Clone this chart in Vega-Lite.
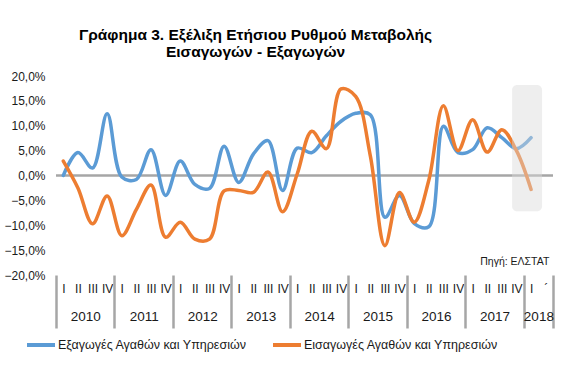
{
  "$schema": "https://vega.github.io/schema/vega-lite/v6.json",
  "autosize": {"type": "none"},
  "width": 497,
  "height": 199,
  "padding": {"left": 56, "top": 76, "right": 22, "bottom": 104},
  "config": {
    "font": "Liberation Sans",
    "view": {"stroke": null},
    "axis": {"labelFont": "Liberation Sans", "labelColor": "#1a1a1a", "grid": false, "domain": false}
  },
  "title": {
    "text": ["Γράφημα 3. Εξέλιξη Ετήσιου  Ρυθμού Μεταβολής", "Εισαγωγών - Εξαγωγών"],
    "font": "Liberation Sans",
    "fontSize": 15.5,
    "fontWeight": "bold",
    "color": "#000000",
    "anchor": "middle",
    "frame": "group",
    "dx": -49,
    "offset": 10,
    "lineHeight": 17
  },
  "datasets": {
    "trade": [
      {"idx": 0, "series": "Εξαγωγές Αγαθών και Υπηρεσιών", "value": 0.0},
      {"idx": 1, "series": "Εξαγωγές Αγαθών και Υπηρεσιών", "value": 4.6},
      {"idx": 2, "series": "Εξαγωγές Αγαθών και Υπηρεσιών", "value": 1.5},
      {"idx": 3, "series": "Εξαγωγές Αγαθών και Υπηρεσιών", "value": 12.4},
      {"idx": 4, "series": "Εξαγωγές Αγαθών και Υπηρεσιών", "value": -0.3},
      {"idx": 5, "series": "Εξαγωγές Αγαθών και Υπηρεσιών", "value": -0.8},
      {"idx": 6, "series": "Εξαγωγές Αγαθών και Υπηρεσιών", "value": 5.2},
      {"idx": 7, "series": "Εξαγωγές Αγαθών και Υπηρεσιών", "value": -4.0},
      {"idx": 8, "series": "Εξαγωγές Αγαθών και Υπηρεσιών", "value": 2.9},
      {"idx": 9, "series": "Εξαγωγές Αγαθών και Υπηρεσιών", "value": -1.8},
      {"idx": 10, "series": "Εξαγωγές Αγαθών και Υπηρεσιών", "value": -2.6},
      {"idx": 11, "series": "Εξαγωγές Αγαθών και Υπηρεσιών", "value": 5.9},
      {"idx": 12, "series": "Εξαγωγές Αγαθών και Υπηρεσιών", "value": -1.4},
      {"idx": 13, "series": "Εξαγωγές Αγαθών και Υπηρεσιών", "value": 4.3},
      {"idx": 14, "series": "Εξαγωγές Αγαθών και Υπηρεσιών", "value": 7.0},
      {"idx": 15, "series": "Εξαγωγές Αγαθών και Υπηρεσιών", "value": -3.0},
      {"idx": 16, "series": "Εξαγωγές Αγαθών και Υπηρεσιών", "value": 5.5},
      {"idx": 17, "series": "Εξαγωγές Αγαθών και Υπηρεσιών", "value": 4.6},
      {"idx": 18, "series": "Εξαγωγές Αγαθών και Υπηρεσιών", "value": 8.0},
      {"idx": 19, "series": "Εξαγωγές Αγαθών και Υπηρεσιών", "value": 10.9},
      {"idx": 20, "series": "Εξαγωγές Αγαθών και Υπηρεσιών", "value": 12.5},
      {"idx": 21, "series": "Εξαγωγές Αγαθών και Υπηρεσιών", "value": 12.2},
      {"idx": 22, "series": "Εξαγωγές Αγαθών και Υπηρεσιών", "value": -8.4},
      {"idx": 23, "series": "Εξαγωγές Αγαθών και Υπηρεσιών", "value": -4.0},
      {"idx": 24, "series": "Εξαγωγές Αγαθών και Υπηρεσιών", "value": -9.6},
      {"idx": 25, "series": "Εξαγωγές Αγαθών και Υπηρεσιών", "value": -10.3},
      {"idx": 26, "series": "Εξαγωγές Αγαθών και Υπηρεσιών", "value": 9.9},
      {"idx": 27, "series": "Εξαγωγές Αγαθών και Υπηρεσιών", "value": 4.6},
      {"idx": 28, "series": "Εξαγωγές Αγαθών και Υπηρεσιών", "value": 5.2},
      {"idx": 29, "series": "Εξαγωγές Αγαθών και Υπηρεσιών", "value": 9.6},
      {"idx": 30, "series": "Εξαγωγές Αγαθών και Υπηρεσιών", "value": 7.6},
      {"idx": 31, "series": "Εξαγωγές Αγαθών και Υπηρεσιών", "value": 5.4},
      {"idx": 32, "series": "Εξαγωγές Αγαθών και Υπηρεσιών", "value": 7.6},
      {"idx": 0, "series": "Εισαγωγές Αγαθών και Υπηρεσιών", "value": 2.9},
      {"idx": 1, "series": "Εισαγωγές Αγαθών και Υπηρεσιών", "value": -2.5},
      {"idx": 2, "series": "Εισαγωγές Αγαθών και Υπηρεσιών", "value": -9.7},
      {"idx": 3, "series": "Εισαγωγές Αγαθών και Υπηρεσιών", "value": -4.1},
      {"idx": 4, "series": "Εισαγωγές Αγαθών και Υπηρεσιών", "value": -12.1},
      {"idx": 5, "series": "Εισαγωγές Αγαθών και Υπηρεσιών", "value": -6.8},
      {"idx": 6, "series": "Εισαγωγές Αγαθών και Υπηρεσιών", "value": -1.9},
      {"idx": 7, "series": "Εισαγωγές Αγαθών και Υπηρεσιών", "value": -12.4},
      {"idx": 8, "series": "Εισαγωγές Αγαθών και Υπηρεσιών", "value": -9.4},
      {"idx": 9, "series": "Εισαγωγές Αγαθών και Υπηρεσιών", "value": -12.8},
      {"idx": 10, "series": "Εισαγωγές Αγαθών και Υπηρεσιών", "value": -12.8},
      {"idx": 11, "series": "Εισαγωγές Αγαθών και Υπηρεσιών", "value": -3.1},
      {"idx": 12, "series": "Εισαγωγές Αγαθών και Υπηρεσιών", "value": -3.0},
      {"idx": 13, "series": "Εισαγωγές Αγαθών και Υπηρεσιών", "value": -3.4},
      {"idx": 14, "series": "Εισαγωγές Αγαθών και Υπηρεσιών", "value": 0.7},
      {"idx": 15, "series": "Εισαγωγές Αγαθών και Υπηρεσιών", "value": -7.3},
      {"idx": 16, "series": "Εισαγωγές Αγαθών και Υπηρεσιών", "value": 0.3},
      {"idx": 17, "series": "Εισαγωγές Αγαθών και Υπηρεσιών", "value": 8.9},
      {"idx": 18, "series": "Εισαγωγές Αγαθών και Υπηρεσιών", "value": 5.4},
      {"idx": 19, "series": "Εισαγωγές Αγαθών και Υπηρεσιών", "value": 17.4},
      {"idx": 20, "series": "Εισαγωγές Αγαθών και Υπηρεσιών", "value": 15.9},
      {"idx": 21, "series": "Εισαγωγές Αγαθών και Υπηρεσιών", "value": 4.0},
      {"idx": 22, "series": "Εισαγωγές Αγαθών και Υπηρεσιών", "value": -14.1},
      {"idx": 23, "series": "Εισαγωγές Αγαθών και Υπηρεσιών", "value": -3.4},
      {"idx": 24, "series": "Εισαγωγές Αγαθών και Υπηρεσιών", "value": -9.4},
      {"idx": 25, "series": "Εισαγωγές Αγαθών και Υπηρεσιών", "value": -1.0},
      {"idx": 26, "series": "Εισαγωγές Αγαθών και Υπηρεσιών", "value": 14.0},
      {"idx": 27, "series": "Εισαγωγές Αγαθών και Υπηρεσιών", "value": 5.0},
      {"idx": 28, "series": "Εισαγωγές Αγαθών και Υπηρεσιών", "value": 11.2},
      {"idx": 29, "series": "Εισαγωγές Αγαθών και Υπηρεσιών", "value": 4.7},
      {"idx": 30, "series": "Εισαγωγές Αγαθών και Υπηρεσιών", "value": 9.2},
      {"idx": 31, "series": "Εισαγωγές Αγαθών και Υπηρεσιών", "value": 5.0},
      {"idx": 32, "series": "Εισαγωγές Αγαθών και Υπηρεσιών", "value": -2.8}
    ],
    "highlight": [
      {"start": 30.7, "end": 32.75, "low": -7.2, "high": 18.2}
    ],
    "source": [
      {"label": "Πηγή: ΕΛΣΤΑΤ"}
    ]
  },
  "layer": [
    {
      "mark": {"type": "rule", "color": "#a6a6a6", "strokeWidth": 2.5},
      "encoding": {
        "y": {"datum": 0, "type": "quantitative", "axis": null}
      }
    },
    {
      "data": {"name": "trade"},
      "mark": {"type": "line", "interpolate": "catmull-rom", "strokeWidth": 3.5, "strokeCap": "round", "strokeJoin": "round"},
      "encoding": {
        "x": {
          "field": "idx",
          "type": "quantitative",
          "scale": {"domain": [-0.5, 33.5], "nice": false, "zero": false},
          "axis": {
            "orient": "bottom",
            "title": null,
            "values": [0,1,2,3,4,5,6,7,8,9,10,11,12,13,14,15,16,17,18,19,20,21,22,23,24,25,26,27,28,29,30,31,32,33],
            "labelExpr": "datum.value == 33 ? '´' : (datum.value % 4 == 0 ? 'I' : (datum.value % 4 == 1 ? 'II' : (datum.value % 4 == 2 ? 'III' : 'IV')))",
            "ticks": false,
            "labelPadding": 8,
            "labelFontSize": 12,
            "labelFlush": false,
            "labelOverlap": false,
            "labelBound": false
          }
        },
        "y": {
          "field": "value",
          "type": "quantitative",
          "scale": {"domain": [-20, 20], "nice": false},
          "axis": {
            "orient": "left",
            "title": null,
            "values": [-20, -15, -10, -5, 0, 5, 10, 15, 20],
            "labelExpr": "replace(format(datum.value, '.1f'), '.', ',') + '%'",
            "ticks": false,
            "labelPadding": 11,
            "labelFontSize": 12
          }
        },
        "color": {
          "field": "series",
          "type": "nominal",
          "scale": {
            "domain": ["Εξαγωγές Αγαθών και Υπηρεσιών", "Εισαγωγές Αγαθών και Υπηρεσιών"],
            "range": ["#5B9BD5", "#ED7D31"]
          },
          "legend": {
            "title": null,
            "orient": "none",
            "direction": "horizontal",
            "legendX": -31,
            "legendY": 253,
            "symbolType": "stroke",
            "symbolSize": 784,
            "symbolStrokeWidth": 4,
            "labelFontSize": 12.5,
            "labelColor": "#1a1a1a",
            "labelOffset": 1,
            "labelLimit": 0,
            "columnPadding": 18,
            "padding": 0
          }
        }
      }
    },
    {
      "data": {"name": "highlight"},
      "mark": {"type": "rect", "fill": "#d9d9d9", "opacity": 0.45, "cornerRadius": 5},
      "encoding": {
        "x": {
          "field": "start",
          "type": "quantitative",
          "axis": {
            "orient": "bottom",
            "title": null,
            "values": [-0.5, 3.5, 7.5, 11.5, 15.5, 19.5, 23.5, 27.5, 31.5, 33.5],
            "labels": false,
            "ticks": true,
            "tickSize": 53,
            "tickWidth": 2.5,
            "tickColor": "#a6a6a6"
          }
        },
        "x2": {"field": "end"},
        "y": {"field": "low", "type": "quantitative", "axis": null},
        "y2": {"field": "high"}
      }
    },
    {
      "data": {"name": "source"},
      "mark": {"type": "text", "align": "right", "baseline": "middle", "fontSize": 10.5, "color": "#1a1a1a"},
      "encoding": {
        "text": {"field": "label"},
        "x": {
          "datum": 33.25,
          "type": "quantitative",
          "axis": {
            "orient": "bottom",
            "title": null,
            "values": [1.5, 5.5, 9.5, 13.5, 17.5, 21.5, 25.5, 29.5, 32.5],
            "labelExpr": "toString(2010 + floor(datum.value / 4))",
            "ticks": false,
            "labelPadding": 34,
            "labelFontSize": 13.5,
            "labelFlush": false,
            "labelOverlap": false,
            "labelBound": false
          }
        },
        "y": {"datum": -17.3, "type": "quantitative", "axis": null}
      }
    }
  ],
  "resolve": {"axis": {"x": "independent", "y": "independent"}}
}
